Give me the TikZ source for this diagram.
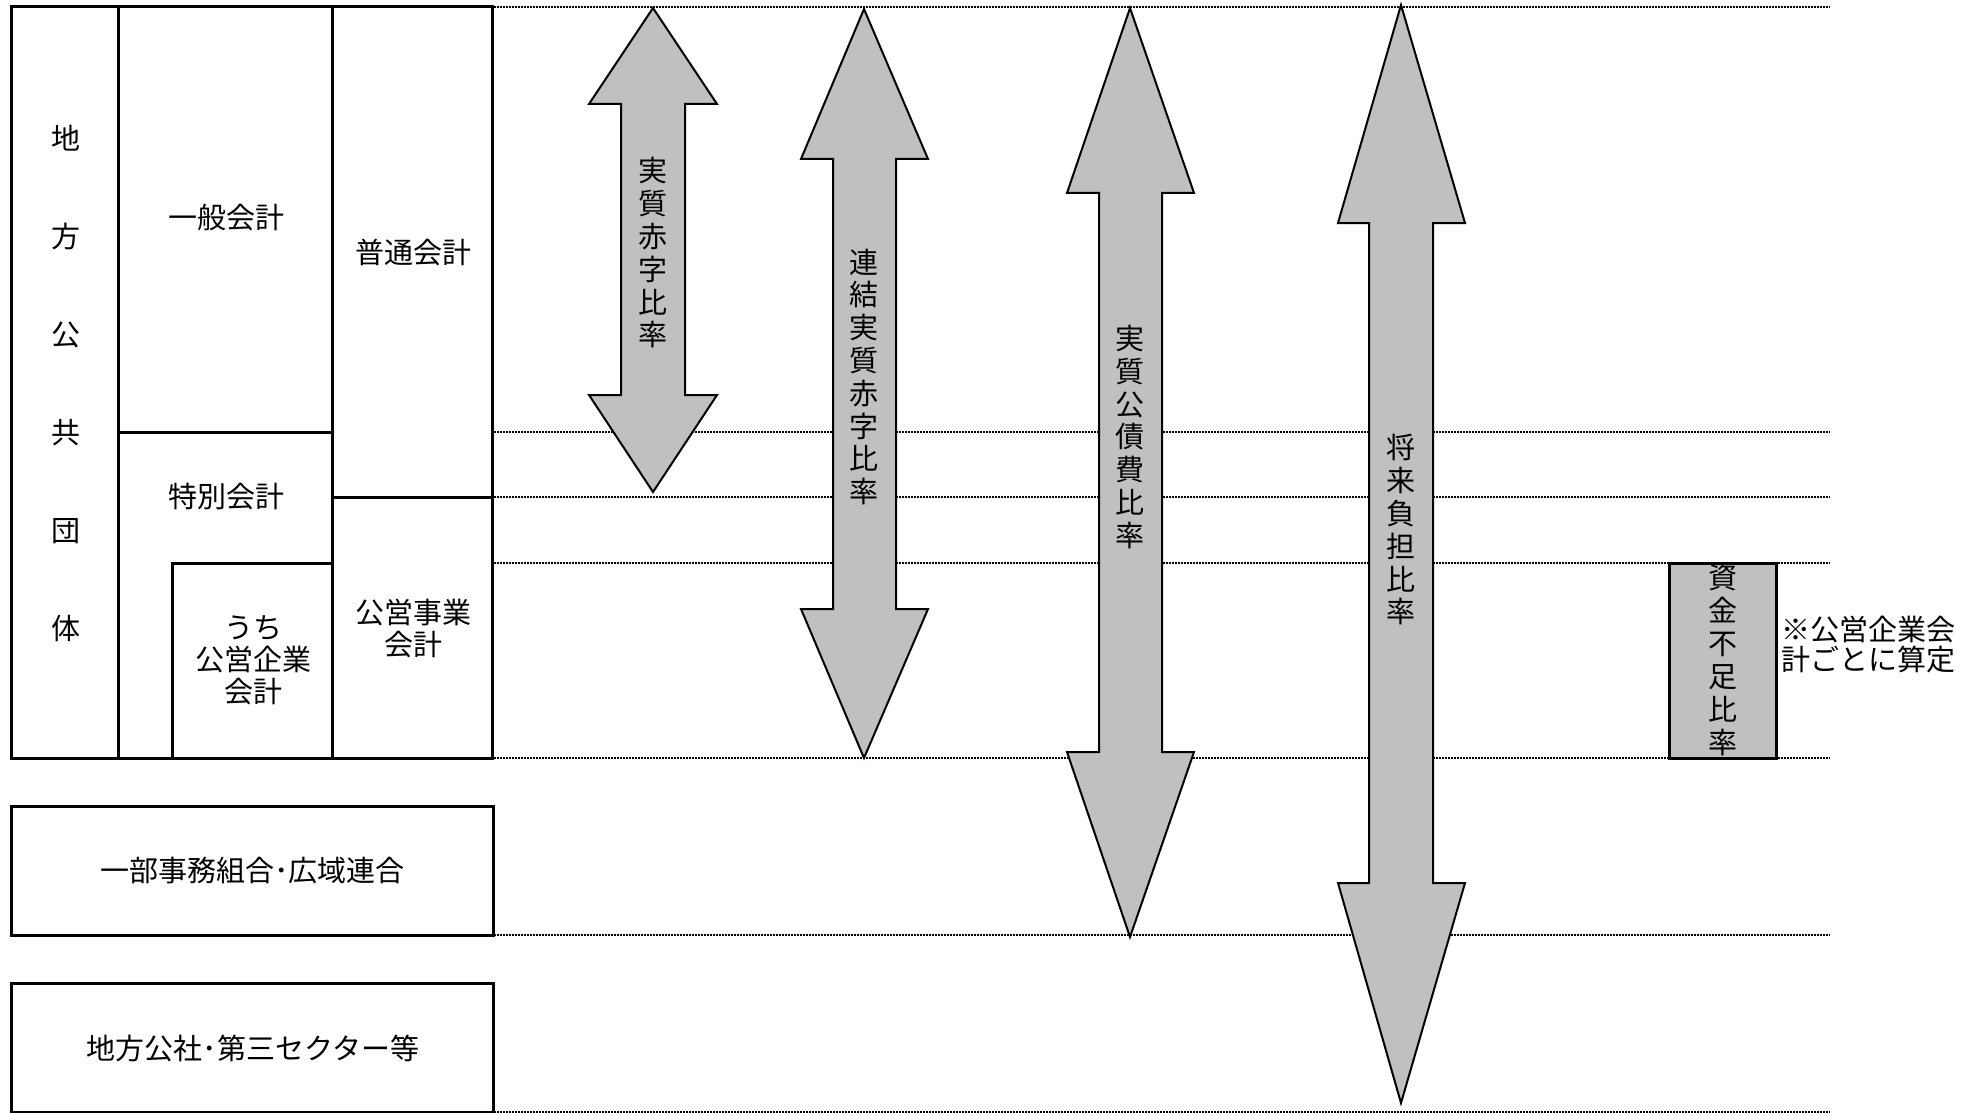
\documentclass[tikz,border=0pt]{standalone}
\usepackage{fontspec}
\setmainfont{Noto Sans CJK JP}
\definecolor{silv}{RGB}{192,192,192}
\tikzset{
  frame/.style={line width=1.5pt, line join=miter},
  guide/.style={line width=0.9pt, dash pattern=on 0.9pt off 0.6pt},
  bigarrow/.style={fill=silv, draw=black, line width=1pt, line join=miter},
  lbl/.style={font=\fontsize{14.5pt}{16pt}\selectfont, inner sep=0pt, align=center},
  vlbl/.style={font=\fontsize{14.5pt}{16.4pt}\selectfont, inner sep=0pt, align=center},
}
\begin{document}
\begin{tikzpicture}[x=0.5pt,y=-0.5pt]
\useasboundingbox[fill=white] (0,0) rectangle (1977,1113);
% guide lines
\foreach \yy in {7,432,497,563,758,935,1112}
  \draw[guide] (494,\yy) -- (1830,\yy);
% left structure
\draw[frame] (11,7) rectangle (118,758);
\draw[frame] (118,7) rectangle (332,432);
\draw[frame] (118,432) rectangle (332,758);
\draw[frame] (172,563) rectangle (332,758);
\draw[frame] (332,7) rectangle (492,497);
\draw[frame] (332,497) rectangle (492,758);
\draw[frame] (11,806) rectangle (493,935);
\draw[frame] (11,983) rectangle (493,1112);
\node[lbl, font=\fontsize{14.5pt}{49pt}\selectfont] (chiho) at (65.7,383) {地\\方\\公\\共\\団\\体};
\node[lbl] (ippan) at (226.7,218) {一般会計};
\node[lbl] (futsu) at (413,252) {普通会計};
\node[lbl] (tokubetsu) at (226.7,497) {特別会計};
\node[lbl] (uchi) at (253,660) {うち\\公営企業\\会計};
\node[lbl] (koei) at (413,628) {公営事業\\会計};
\node[lbl] (ichibu) at (252.5,871) {一部事務組合･広域連合};
\node[lbl] (kosha) at (253,1048) {地方公社･第三セクター等};
% arrows
\draw[bigarrow] (653,8) -- (717,104) -- (685,104) -- (685,395) -- (717,395) -- (653,492)
  -- (589,395) -- (621,395) -- (621,104) -- (589,104) -- cycle;
\draw[bigarrow] (864,9) -- (928,159) -- (896,159) -- (896,609) -- (928,609) -- (864,758)
  -- (801,609) -- (833,609) -- (833,159) -- (801,159) -- cycle;
\draw[bigarrow] (1130,8) -- (1194,193) -- (1162,193) -- (1162,752) -- (1194,752) -- (1130,937)
  -- (1067,752) -- (1099,752) -- (1099,193) -- (1067,193) -- cycle;
\draw[bigarrow] (1401,5) -- (1465,223) -- (1433,223) -- (1433,883) -- (1465,883) -- (1401,1103)
  -- (1338,883) -- (1369,883) -- (1369,223) -- (1338,223) -- cycle;
\node[vlbl] (a1) at (653,253) {実\\質\\赤\\字\\比\\率};
\node[vlbl] (a2) at (864,377) {連\\結\\実\\質\\赤\\字\\比\\率};
\node[vlbl] (a3) at (1130,437) {実\\質\\公\\債\\費\\比\\率};
\node[vlbl] (a4) at (1401,530) {将\\来\\負\\担\\比\\率};
% shortage box
\draw[frame, fill=silv] (1669,563) rectangle (1776,758);
\node[vlbl, font=\fontsize{14.5pt}{16.5pt}\selectfont] (shikin) at (1722.7,660.5) {資\\金\\不\\足\\比\\率};
\node[lbl, align=left, anchor=west, font=\fontsize{14.5pt}{15pt}\selectfont] (note) at (1781,645) {※公営企業会\\計ごとに算定};
\end{tikzpicture}
\end{document}
